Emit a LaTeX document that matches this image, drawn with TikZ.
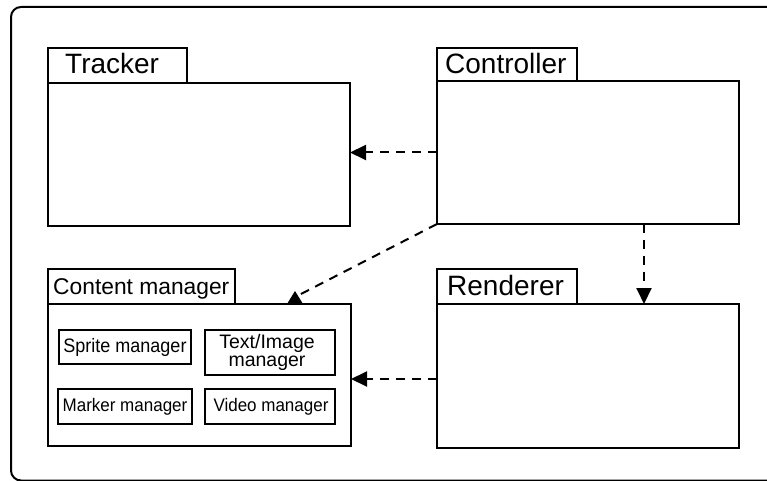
\documentclass[tikz,border=0pt]{standalone}
\usepackage{fontspec}
\setmainfont{Liberation Sans}
\usetikzlibrary{arrows.meta,calc}
\begin{document}
\begin{tikzpicture}[x=1pt,y=-1pt,
  box/.style={draw, line width=2.2pt, outer sep=0pt, inner sep=0pt, anchor=north west, fill=white},
  inbox/.style={draw, line width=2.6pt, outer sep=0pt, inner sep=0pt, anchor=north west},
  lbl/.style={anchor=base west, inner sep=0pt, font=\fontsize{28}{30}\selectfont},
  smalllbl/.style={inner sep=0pt, align=center},
  dashln/.style={line width=2pt, dash pattern=on 9pt off 7pt},
  dep/.style={dashln, -{Triangle[length=16pt,width=15pt]}},
  frame/.style={draw, line width=2pt, rounded corners=10pt}
]
\useasboundingbox (0,0) rectangle (767,481);
\draw[frame] (11,7) rectangle (800,480.5);

% Tracker
\node[box, minimum width=302pt, minimum height=143pt] (tracker) at (48,83) {};
\node[box, minimum width=139pt, minimum height=35pt] (trackertab) at (48,48) {};
\node[lbl] (trackerlbl) at (65,74) {Tracker};

% Controller
\node[box, minimum width=302pt, minimum height=143pt] (ctrl) at (437,81) {};
\node[box, minimum width=140pt, minimum height=33pt] (ctrltab) at (437,48) {};
\node[lbl] (ctrllbl) at (445,74) {Controller};

% Content manager
\node[box, minimum width=303pt, minimum height=142pt] (content) at (48,304) {};
\node[box, minimum width=187pt, minimum height=35pt] (contenttab) at (48,269) {};
\node[lbl, font=\fontsize{22.8}{24}\selectfont] (contentlbl) at (53,294) {Content manager};

% Renderer
\node[box, minimum width=302pt, minimum height=144pt] (rend) at (437,304) {};
\node[box, minimum width=140pt, minimum height=35pt] (rendtab) at (437,269) {};
\node[lbl] (rendlbl) at (447,295) {Renderer};

% inner boxes
\node[inbox, minimum width=132pt, minimum height=34pt] (sprite) at (59,330) {};
\node[inbox, minimum width=130pt, minimum height=45pt] (textimg) at (205,330) {};
\node[inbox, minimum width=134pt, minimum height=35pt] (marker) at (58,389) {};
\node[inbox, minimum width=130pt, minimum height=35pt] (video) at (205,389) {};
\node[smalllbl, font=\fontsize{18}{20}\selectfont] (spritelbl) at (sprite.center) {\scalebox{1}[1.08]{Sprite manager}};
\node[smalllbl, font=\fontsize{19.5}{17.5}\selectfont] (textimglbl) at ([xshift=-3pt]textimg.center) {Text/Image\\manager};
\node[smalllbl, font=\fontsize{17}{19}\selectfont] (markerlbl) at (marker.center) {\scalebox{1}[1.07]{Marker manager}};
\node[smalllbl, font=\fontsize{17}{19}\selectfont] (videolbl) at ([xshift=1pt]video.center) {\scalebox{1}[1.07]{Video manager}};

% connectors
\coordinate (cmtip) at ([xshift=251pt,yshift=9pt]content.north west);
\draw[dep] (ctrl.west) -- (ctrl.west -| tracker.east);
\draw[dep] ([xshift=207pt]ctrl.south west) -- ([xshift=207pt]ctrl.south west |- rend.north);
\draw[dashln] (ctrl.south west) -- (cmtip);
\fill ([xshift=239pt]content.north west) -- ([xshift=247pt,yshift=13pt]content.north west) -- ([xshift=255pt]content.north west) -- cycle;
\draw[dep] ([yshift=-3pt]rend.west) -- ([yshift=-3pt]rend.west -| content.east);
\end{tikzpicture}
\end{document}
